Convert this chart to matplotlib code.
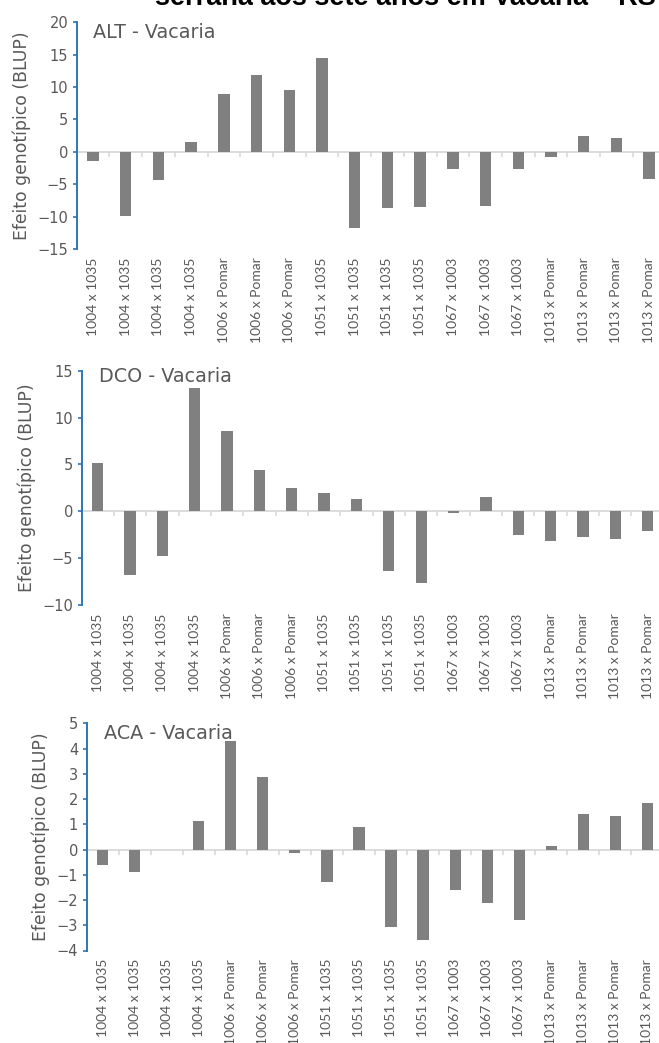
import numpy as np
import matplotlib
matplotlib.use("Agg")
import matplotlib.pyplot as plt

# crosses (family x parent), one bar per progeny
cruzamentos = ["1004 x 1035"] * 4 + ["1006 x Pomar"] * 3 + ["1051 x 1035"] * 4 \
    + ["1067 x 1003"] * 3 + ["1013 x Pomar"] * 4

# genotypic effects (BLUP) per trait
alt = [-1.4, -9.9, -4.3, 1.5, 8.9, 11.9, 9.6, 14.5, -11.7, -8.7, -8.5, -2.6,
       -8.3, -2.7, -0.8, 2.5, 2.1, -4.2]
dco = [5.2, -6.8, -4.8, 13.2, 8.6, 4.4, 2.5, 2.0, 1.3, -6.4, -7.6, -0.2,
       1.5, -2.5, -3.2, -2.7, -3.0, -2.1]
aca = [-0.6, -0.9, 0.0, 1.13, 4.3, 2.88, -0.15, -1.27, 0.91, -3.07, -3.6, -1.61,
       -2.13, -2.79, 0.14, 1.4, 1.33, 1.83]

titulos = ["ALT - Vacaria", "DCO - Vacaria", "ACA - Vacaria"]
series = [alt, dco, aca]
limites = [(-15, 20, 5), (-10, 15, 5), (-4, 5, 1)]

W, H = 659, 1043
# panel boxes in pixels: left, right, top, bottom
caixas = [(76.7, 665.5, 22.3, 249.0),
          (81.5, 663.8, 370.7, 605.0),
          (86.5, 663.5, 723.3, 950.5)]
# title offset from the axes' top-left corner (px) and ylabel distance (px)
pos_titulo = [(16.6, 15.4), (17.5, 11.6), (17.0, 16.0)]
dist_ylabel = [54.7, 54.8, 45.7]

cinza = "#595959"
azul = "#2e75b6"

fig = plt.figure(figsize=(W / 100, H / 100), dpi=100)

fig.text(155 / W, 1 - 5 / H, "serrana aos sete anos em Vacaria \u2013 RS",
         fontsize=19.5, fontweight="bold", family="Liberation Sans",
         ha="left", va="baseline", color="black")

x = np.arange(len(cruzamentos))
for i in range(3):
    l, r, t, b = caixas[i]
    ax = fig.add_axes([l / W, 1 - b / H, (r - l) / W, (b - t) / H])
    ax.bar(x, series[i], width=0.35, color="#808080", linewidth=0, zorder=3)

    lo, hi, step = limites[i]
    ax.set_xlim(-0.5, len(cruzamentos) - 0.5)
    ax.set_ylim(lo, hi)
    ax.set_yticks(np.arange(lo, hi + step / 2, step))

    # zero line with small category separators
    ax.axhline(0, color="#d9d9d9", lw=1.3, zorder=2)
    ax.vlines(np.arange(0.5, len(cruzamentos) - 0.5), 0, -0.022 * (hi - lo),
              color="#d9d9d9", lw=1.2, zorder=2)

    for s in ["top", "right", "bottom"]:
        ax.spines[s].set_visible(False)
    ax.spines["left"].set_color(azul)
    ax.spines["left"].set_linewidth(1.4)

    ax.tick_params(axis="y", direction="out", length=3, width=1.2, color=azul,
                   labelcolor=cinza, labelsize=10.5, pad=3)
    ax.set_xticks(x)
    ax.set_xticklabels(cruzamentos, rotation=90, family="Lato", fontsize=10,
                       color=cinza)
    ax.tick_params(axis="x", length=0, pad=6)

    ax.set_ylabel("Efeito genotípico (BLUP)", fontsize=12.4, color=cinza,
                  va="center")
    ax.yaxis.set_label_coords(-dist_ylabel[i] / (r - l), 0.5)

    dx, dy = pos_titulo[i]
    ax.annotate(titulos[i], xy=(0, 1), xycoords="axes fraction",
                xytext=(dx * 0.72, -dy * 0.72), textcoords="offset points",
                fontsize=13.8, color=cinza, ha="left", va="baseline")

fig.savefig("out.png", dpi=100)
